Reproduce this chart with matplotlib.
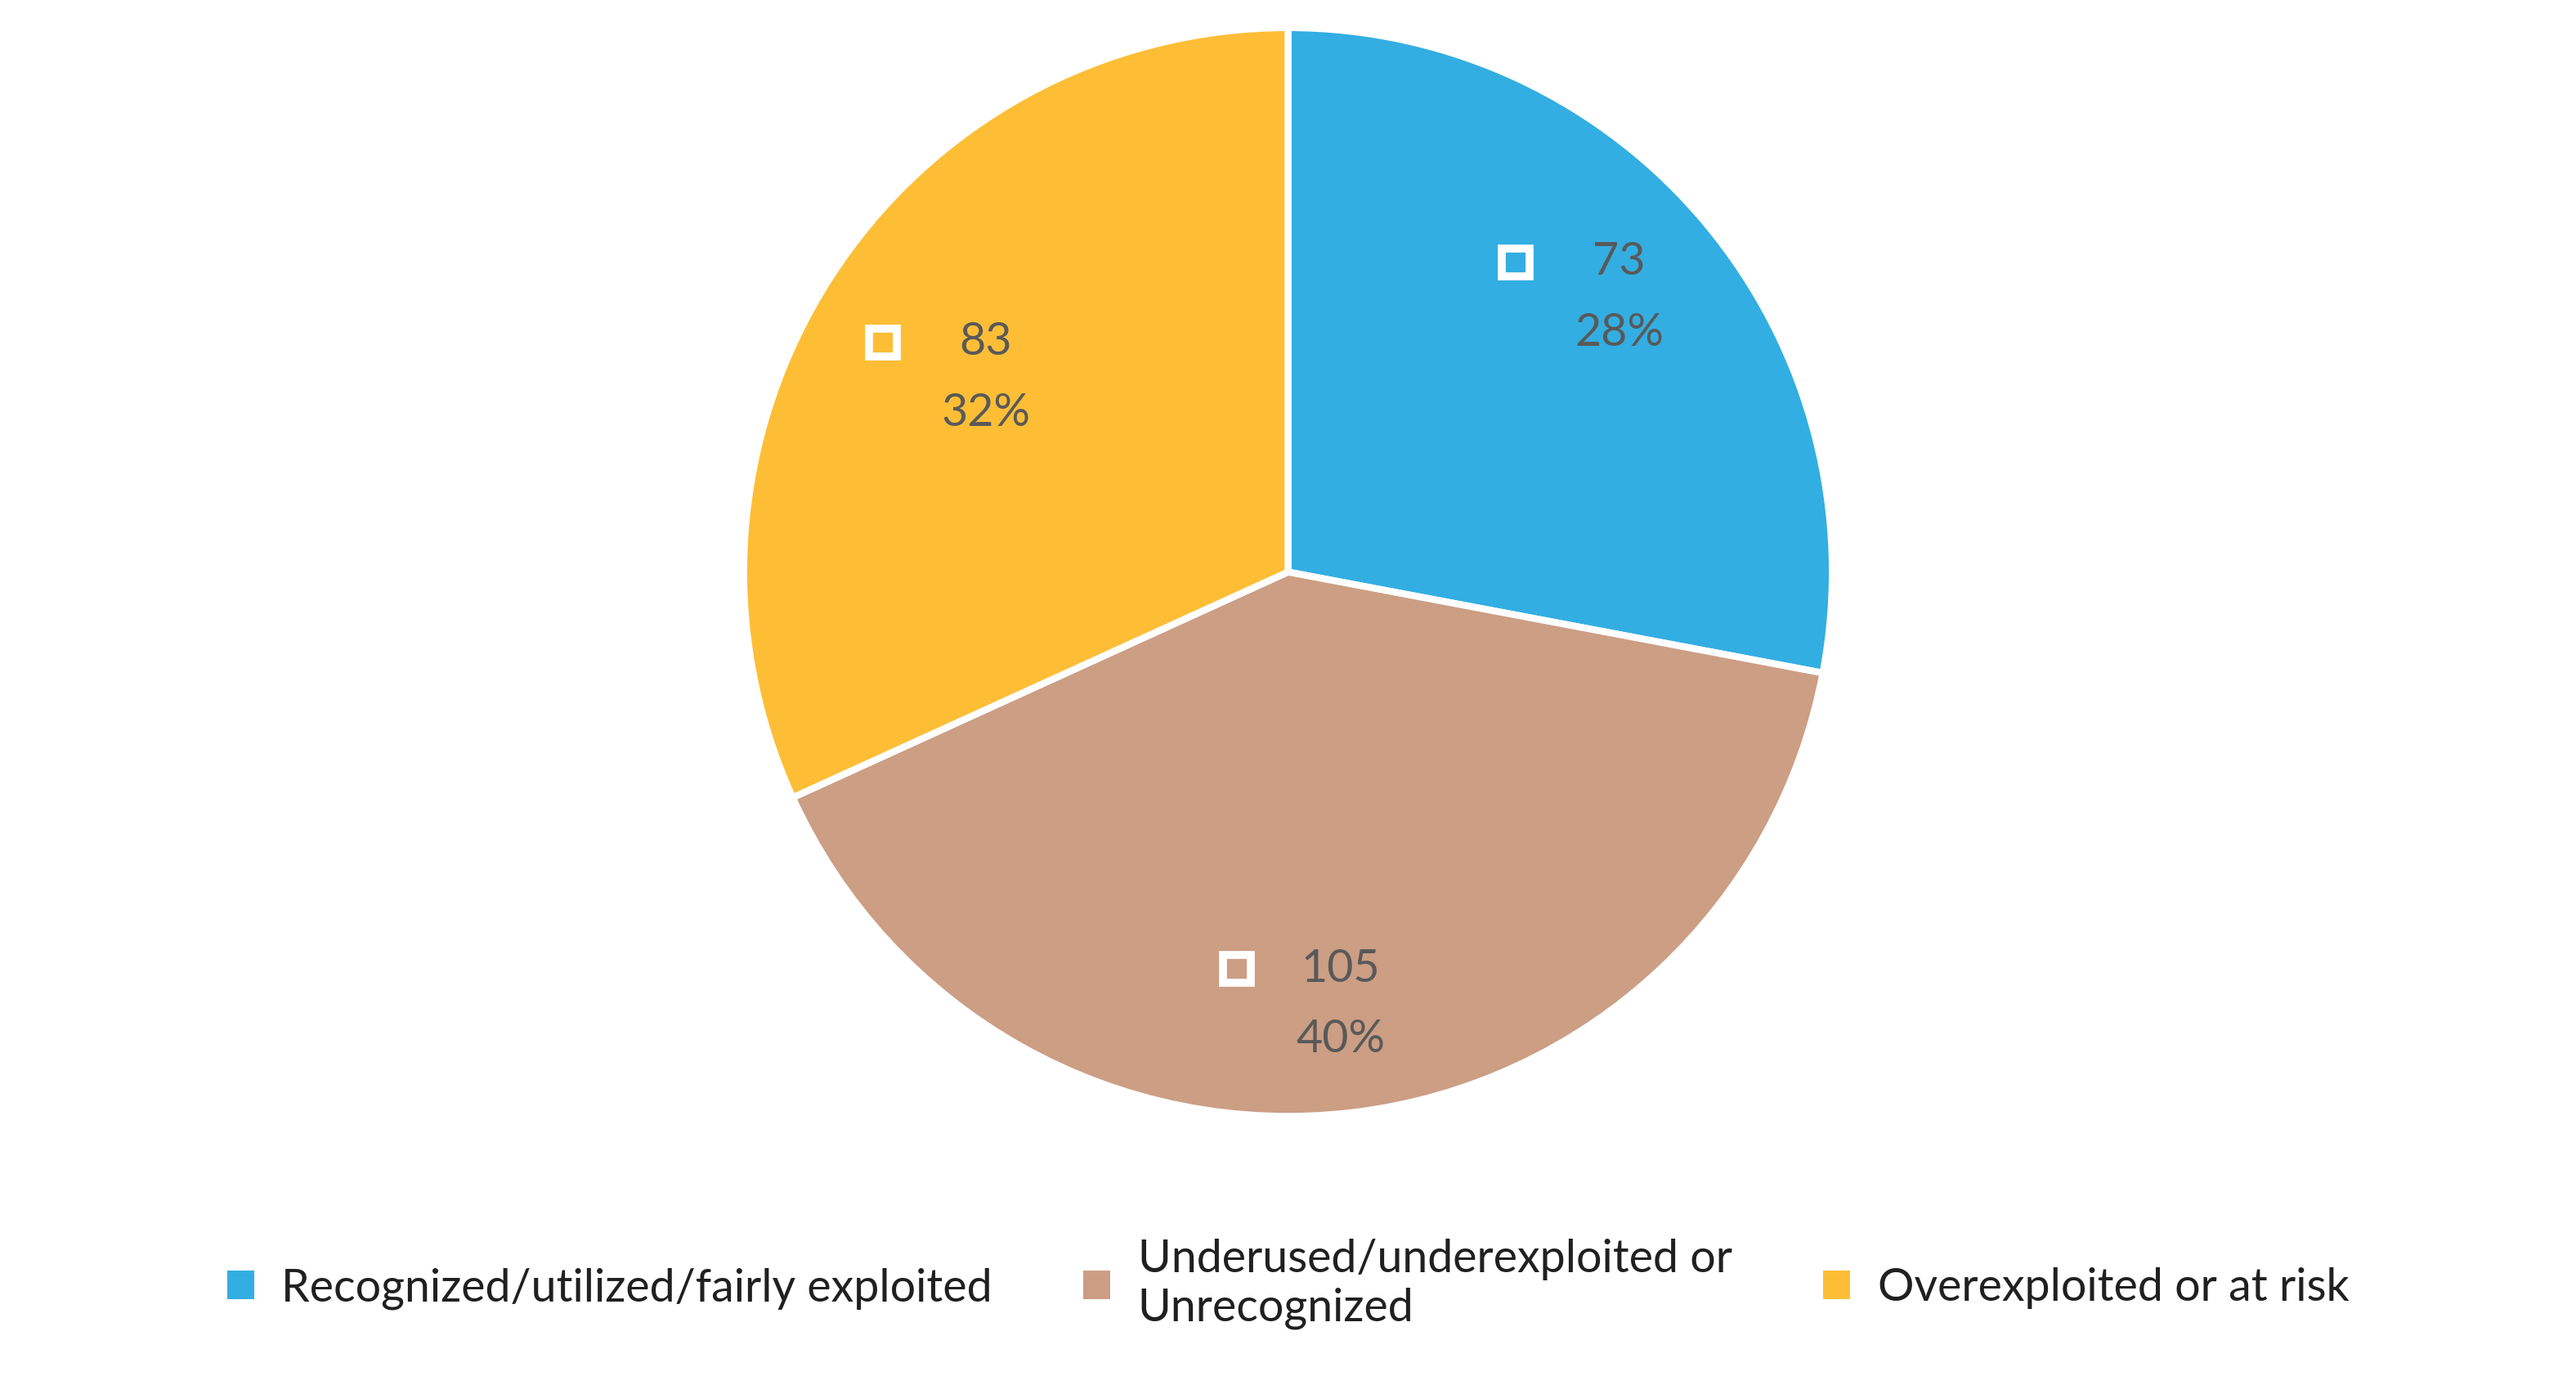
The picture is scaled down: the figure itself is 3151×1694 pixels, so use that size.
import numpy as np
import matplotlib.pyplot as plt
from matplotlib.patches import Patch

plt.rcParams['font.family'] = ['Lato', 'DejaVu Sans']

categories = ["Recognized/utilized/fairly exploited",
              "Underused/underexploited or\nUnrecognized",
              "Overexploited or at risk"]
values = [73, 105, 83]
colors = ["#33AEE2", "#CC9E84", "#FDBE36"]
label_r = [0.79, 0.80, 0.66]

fig = plt.figure(figsize=(15.755, 8.47), dpi=200)
ax = fig.add_axes([0.2887, 0.194, 0.4226, 0.786])
wedges, _ = ax.pie(values, colors=colors, startangle=90, counterclock=False,
                   wedgeprops=dict(edgecolor="white", linewidth=3))
ax.set_xlim(-1, 1)
ax.set_ylim(-1, 1)
ax.set_aspect("equal")

total = sum(values)
for w, v, c, r in zip(wedges, values, colors, label_r):
    ang = np.deg2rad((w.theta1 + w.theta2) / 2)
    x, y = r * np.cos(ang), r * np.sin(ang)
    ax.text(x, y + 0.065, f"{v}", ha="center", va="center", fontsize=20, color="#595959")
    ax.text(x, y - 0.065, f"{round(100 * v / total)}%", ha="center", va="center",
            fontsize=20, color="#595959")
    ax.plot(x - 0.19, y + 0.065, marker="s", markersize=12, markerfacecolor=c,
            markeredgecolor="white", markeredgewidth=3.5, clip_on=False)

handles = [Patch(facecolor=c, edgecolor="none") for c in colors]
fig.legend(handles, categories, loc="upper center", bbox_to_anchor=(0.5, 0.135),
           ncol=3, frameon=False, fontsize=20, handlelength=0.6, handleheight=0.6,
           handletextpad=0.6, columnspacing=2.0, labelcolor="#202020")

fig.savefig("out.png", dpi=200)
